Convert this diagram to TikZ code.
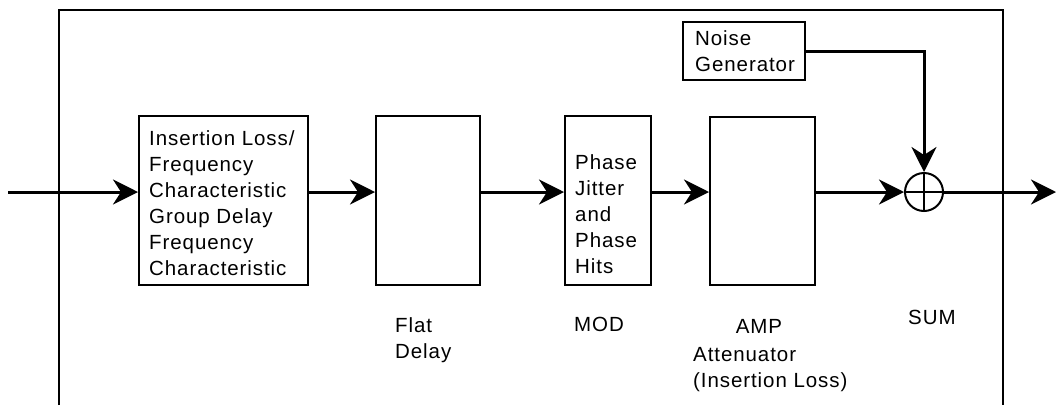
\documentclass[tikz,border=0pt]{standalone}
\usepackage{fontspec}
\setmainfont{Liberation Sans}[LetterSpace=4.5]
\usetikzlibrary{%
	arrows.meta,%
	positioning%
}

\tikzset{
	blk/.style={draw,line width=2pt,inner sep=0pt},
	sig/.style={line width=3pt,-{Stealth[length=25pt,width=25pt,inset=8pt]}},
	txt/.style={anchor=north west,align=left,inner sep=0pt,font=\fontsize{20.5}{26}\selectfont}
}

\begin{document}
\begin{tikzpicture}[x=1pt,y=-1pt]
			\useasboundingbox (0,0) rectangle (1056,405);
			
			% Frame, open at the bottom
			\draw[line width=2pt] (59,405) -- (59,10) -- (1003,10) -- (1003,405);
			
			% Blocks
			\node[blk,minimum width=169pt,minimum height=169pt] (ilf) at (223.5,200.5) {};
			\node[blk,minimum width=104pt,minimum height=169pt] (delay) at (428,200.5) {};
			\node[blk,minimum width=86pt,minimum height=169pt] (mod) at (608,200.5) {};
			\node[blk,minimum width=105pt,minimum height=168pt] (amp) at (762.5,201) {};
			\node[blk,minimum width=122pt,minimum height=58pt] (noise) at (744,51) {};
			\node[draw,circle,line width=2pt,inner sep=0pt,minimum size=38pt] (sum) at (924,192) {};
			\draw[line width=2pt] (sum.north) -- (sum.south) (sum.west) -- (sum.east);
			
			% Ends of the signal path
			\coordinate (in) at (8,192);
			\coordinate (out) at (1056,192);
			
			% Signal path
			\draw[sig] (in) -- (ilf.west |- in);
			\draw[sig] (ilf.east |- in) -- (delay.west |- in);
			\draw[sig] (delay.east |- in) -- (mod.west |- in);
			\draw[sig] (mod.east |- in) -- (amp.west |- in);
			\draw[sig] (amp.east |- in) -- (sum.west);
			\draw[sig] (noise.east) -| (sum.north);
			\draw[sig] (sum.east) -- (out);
			
			% Texts in the blocks
			\node[txt] (ilftxt) at (149,130) {Insertion Loss/\\Frequency\\Characteristic\\Group Delay\\Frequency\\Characteristic};
			\node[txt] (modtxt) at (575,154) {Phase\\Jitter\\and\\Phase\\Hits};
			\node[txt] (noisetxt) at (695,30) {Noise\\Generator};
			
			% Labels below
			\node[txt] (delaylbl) at (395,317) {Flat\\Delay};
			\node[txt] (modlbl) at (574,317) {MOD};
			\node[txt,anchor=north] (amplbl) at (759,319) {AMP};
			\node[txt] (attlbl) at (693,347) {Attenuator\\(Insertion Loss)};
			\node[txt] (sumlbl) at (908,310) {SUM};
		\end{tikzpicture}
\end{document}
